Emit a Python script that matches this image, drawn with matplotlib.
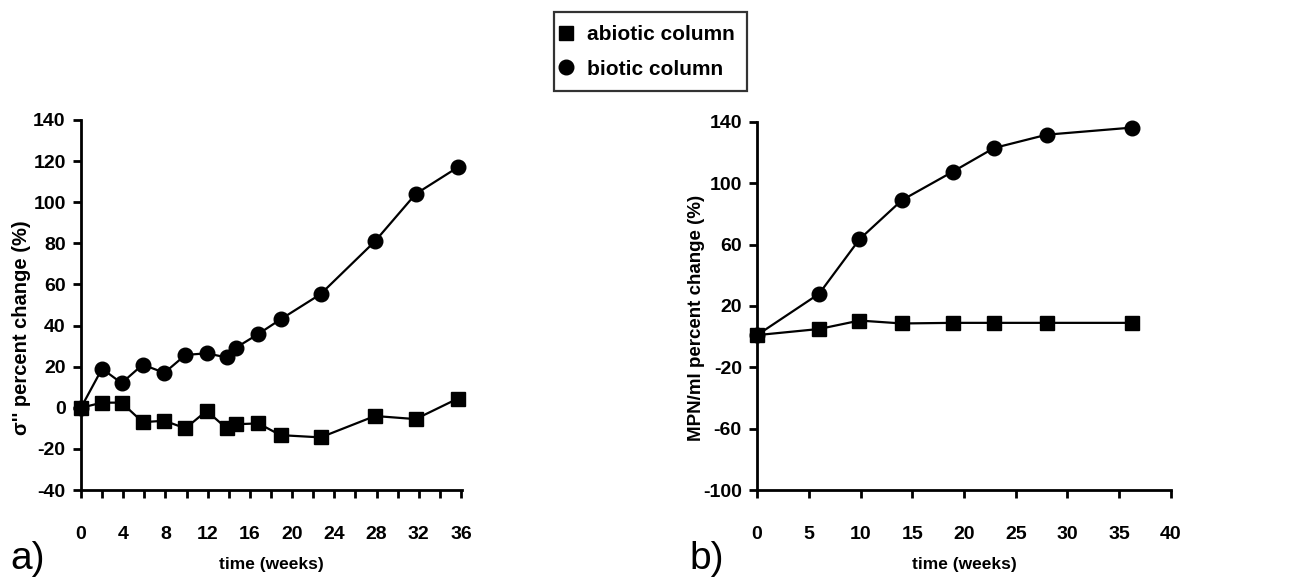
import matplotlib.pyplot as plt
from matplotlib.ticker import MultipleLocator, FixedLocator

plt.rcParams['font.family'] = ['Liberation Sans', 'DejaVu Sans']
plt.rcParams['axes.unicode_minus'] = False

# panel a) sigma'' percent change
weeks_a_biotic = [0, 2, 3.85, 5.85, 7.9, 9.9, 11.9, 13.8, 14.7, 16.8, 18.9, 22.7, 27.85, 31.7, 35.7]
sigma_biotic = [0, 19, 12, 21, 17, 25.7, 26.5, 24.5, 29.3, 35.9, 43, 55.3, 81, 104, 117]
weeks_a_abiotic = [0, 2, 3.85, 5.85, 7.9, 9.9, 11.9, 13.8, 14.7, 16.8, 18.9, 22.7, 27.85, 31.7, 35.7]
sigma_abiotic = [0, 2.5, 2.5, -7, -6.3, -10, -1.5, -10, -8, -7.6, -13.3, -14.4, -4, -5.5, 4.5]

# panel b) MPN/ml percent change
weeks_b = [0, 6, 9.9, 14, 18.9, 22.9, 28, 36.2]
mpn_biotic = [1, 28, 63.5, 89, 107.5, 123, 131.7, 136.3]
mpn_abiotic = [1, 5, 10.5, 8.6, 9, 9, 9, 9]

fig = plt.figure(figsize=(12.93, 5.81), dpi=100)
ax1 = fig.add_axes([0.0626, 0.1566, 0.2948, 0.6369])
ax2 = fig.add_axes([0.5855, 0.1566, 0.3201, 0.6335])

lw = 1.6
h1, = ax1.plot(weeks_a_abiotic, sigma_abiotic, color='black', lw=lw, marker='s', ms=9.5, label='abiotic column', clip_on=False)
h2, = ax1.plot(weeks_a_biotic, sigma_biotic, color='black', lw=lw, marker='o', ms=10.5, label='biotic column', clip_on=False)
ax2.plot(weeks_b, mpn_abiotic, color='black', lw=lw, marker='s', ms=9.5, clip_on=False)
ax2.plot(weeks_b, mpn_biotic, color='black', lw=lw, marker='o', ms=10.5, clip_on=False)

ax1.set_xlim(0, 36.1)
ax1.set_ylim(-40, 140)
ax1.xaxis.set_major_locator(MultipleLocator(4))
ax1.xaxis.set_minor_locator(MultipleLocator(2))
ax1.yaxis.set_major_locator(MultipleLocator(20))

ax2.set_xlim(0, 40)
ax2.set_ylim(-100, 140)
ax2.xaxis.set_major_locator(MultipleLocator(5))
ax2.yaxis.set_major_locator(FixedLocator([-100, -60, -20, 20, 60, 100, 140]))

for ax in (ax1, ax2):
    for s in ('top', 'right'):
        ax.spines[s].set_visible(False)
    for s in ('left', 'bottom'):
        ax.spines[s].set_linewidth(2)
    ax.tick_params(axis='x', which='both', direction='out', length=6, width=2, pad=20, labelsize=14)
    ax.tick_params(axis='y', which='both', direction='out', length=6, width=2, pad=5, labelsize=14)
    for lab in ax.get_xticklabels() + ax.get_yticklabels():
        lab.set_fontweight('bold')
    ax.set_xlabel('time (weeks)', fontsize=12.5, fontweight='bold', labelpad=10)

ax1.set_ylabel("σ'' percent change (%)", fontsize=14.5, fontweight='bold')
ax1.yaxis.set_label_coords(-0.13, 0.44)
ax2.set_ylabel('MPN/ml percent change (%)', fontsize=13.5, fontweight='bold')
ax2.yaxis.set_label_coords(-0.125, 0.467)

fig.text(0.008, 0.02, 'a)', fontsize=28)
fig.text(0.533, 0.02, 'b)', fontsize=28)

leg = fig.legend(handles=[h1, h2], loc='center', bbox_to_anchor=(0.503, 0.911),
                 frameon=True, fancybox=False, edgecolor='black', handlelength=0,
                 handletextpad=1.0, borderpad=0.6, labelspacing=0.75, borderaxespad=0,
                 prop={'size': 15, 'weight': 'bold'})
leg.get_frame().set_linewidth(1.6)
for line in leg.get_lines():
    line.set_linestyle('')

fig.savefig('out.png', dpi=100)
